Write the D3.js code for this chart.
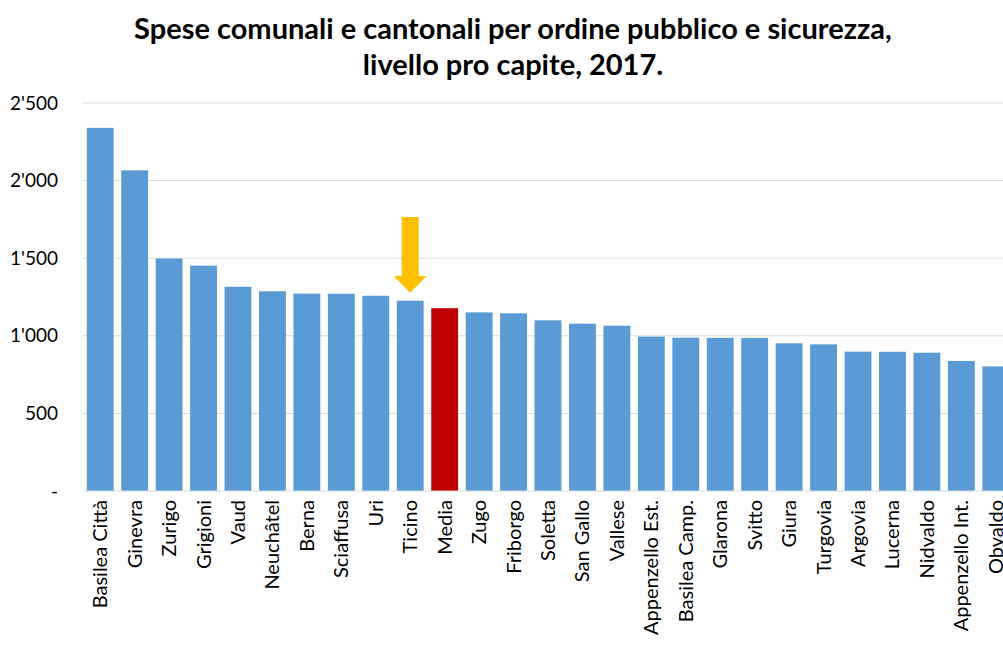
<!DOCTYPE html>
<html><head><meta charset="utf-8">
<script src="https://cdn.jsdelivr.net/npm/d3@7"></script>
<style>body{margin:0;background:#fff;} svg{display:block;}</style>
</head><body>
<svg id="c" width="1003" height="654"></svg>
<script>
const categories = ["Basilea Città","Ginevra","Zurigo","Grigioni","Vaud","Neuchâtel","Berna","Sciaffusa","Uri","Ticino","Media","Zugo","Friborgo","Soletta","San Gallo","Vallese","Appenzello Est.","Basilea Camp.","Glarona","Svitto","Giura","Turgovia","Argovia","Lucerna","Nidvaldo","Appenzello Int.","Obvaldo"];
const values = [2340,2066,1498,1452,1316,1287,1272,1271,1258,1226,1178,1151,1145,1100,1078,1065,995,988,987,986,952,945,898,897,891,838,803];
const yTicks = [0,500,1000,1500,2000,2500];
const yTickLabels = ["-","500","1'000","1'500","2'000","2'500"];
const titleLines = ["Spese comunali e cantonali per ordine pubblico e sicurezza,","livello pro capite, 2017."];
const highlight = "Media";
const arrowAt = "Ticino";

const svg = d3.select("#c");
const font = "Lato, 'Open Sans', sans-serif";
const x = d3.scaleBand().domain(categories).range([83, 1013]).paddingInner(0.22).paddingOuter(0.11);
const y = d3.scaleLinear().domain([0, 2500]).range([491, 103]);

// gridlines
svg.append("g").selectAll("line").data(yTicks.filter(d => d > 0)).join("line")
  .attr("x1", 83).attr("x2", 1013)
  .attr("y1", d => y(d)).attr("y2", d => y(d))
  .attr("stroke", "#d9d9d9").attr("stroke-width", 1);

// y labels
svg.append("g").selectAll("text").data(yTicks).join("text")
  .attr("x", 58).attr("y", d => y(d)).attr("dy", "0.35em")
  .attr("text-anchor", "end")
  .style("font-family", font).style("font-size", "19px").attr("fill", "#000")
  .text((d, i) => yTickLabels[i]);

// bars
svg.append("g").selectAll("rect").data(categories).join("rect")
  .attr("x", d => x(d)).attr("width", x.bandwidth())
  .attr("y", (d, i) => y(values[i])).attr("height", (d, i) => y(0) - y(values[i]))
  .attr("fill", d => d === highlight ? "#c00000" : "#5b9bd5");

// baseline
svg.append("line").attr("x1", 83).attr("x2", 1013).attr("y1", y(0)).attr("y2", y(0))
  .attr("stroke", "#d9d9d9").attr("stroke-width", 1);

// x labels
svg.append("g").selectAll("text").data(categories).join("text")
  .attr("transform", d => `translate(${x(d) + x.bandwidth()/2},500) rotate(-90)`)
  .attr("text-anchor", "end").attr("dy", "0.35em")
  .style("font-family", font).style("font-size", "20px").attr("fill", "#000")
  .text(d => d);

// arrow
const ai = categories.indexOf(arrowAt);
const ax = x(arrowAt) + x.bandwidth()/2;
const tipY = y(values[ai]) - 8;
svg.append("path")
  .attr("d", `M${ax-8.5},217 L${ax+8.5},217 L${ax+8.5},276 L${ax+16.5},276 L${ax},${tipY} L${ax-16.5},276 L${ax-8.5},276 Z`)
  .attr("fill", "#ffc000");

// title
svg.append("g").selectAll("text").data(titleLines).join("text")
  .attr("x", 513).attr("y", (d, i) => 39 + i * 36)
  .attr("text-anchor", "middle")
  .style("font-family", font).style("font-size", "29px").style("font-weight", "bold").attr("fill", "#000")
  .text(d => d);
</script>
</body></html>
